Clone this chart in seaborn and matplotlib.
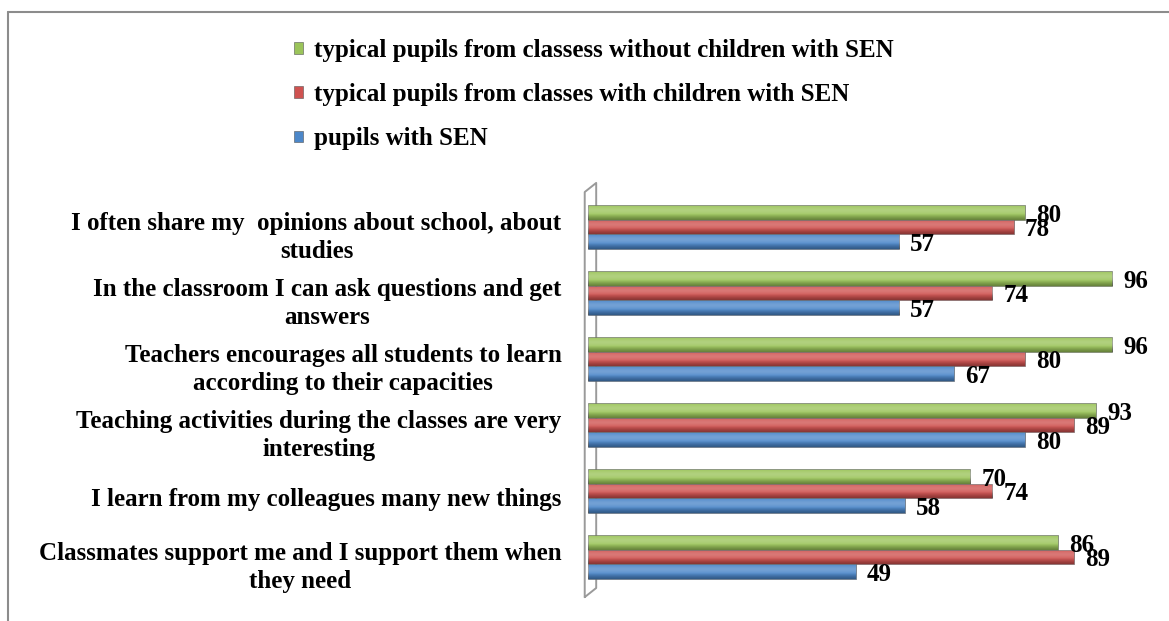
import matplotlib
matplotlib.use("Agg")
import matplotlib.pyplot as plt
import matplotlib.transforms as mtransforms
import numpy as np
import pandas as pd
import seaborn as sns
from matplotlib.lines import Line2D

# questionnaire items, top to bottom
CATEGORIES = [
    "I often share my  opinions about school, about\nstudies",
    "In the classroom I can ask questions and get\nanswers",
    "Teachers encourages all students to learn\naccording to their capacities",
    "Teaching activities during the classes are very\ninteresting",
    "I learn from my colleagues many new things",
    "Classmates support me and I support them when\nthey need",
]

SERIES = [
    "typical pupils from classess without children with SEN",
    "typical pupils from classes with children with SEN",
    "pupils with SEN",
]

WITHOUT_SEN = [80, 96, 96, 93, 70, 86]
WITH_SEN = [78, 74, 80, 89, 74, 89]
PUPILS_SEN = [57, 57, 67, 80, 58, 49]

COLORS = ["#9BC45A", "#CF5250", "#4C87C9"]

sns.set_theme(style="white")
plt.rcParams["font.family"] = ["Liberation Serif", "DejaVu Serif"]
plt.rcParams["font.weight"] = "bold"
plt.rcParams["text.color"] = "black"

df = pd.DataFrame({
    "item": CATEGORIES * 3,
    "group": [SERIES[0]] * 6 + [SERIES[1]] * 6 + [SERIES[2]] * 6,
    "value": WITHOUT_SEN + WITH_SEN + PUPILS_SEN,
})

fig = plt.figure(figsize=(11.69, 6.21), dpi=100)
ax = fig.add_axes([588 / 1169, 1 - 590 / 621, 546 / 1169, 396 / 621])

sns.barplot(
    data=df, x="value", y="item", hue="group",
    order=CATEGORIES, hue_order=SERIES, palette=COLORS,
    orient="h", width=0.66, saturation=1,
    edgecolor="#555555", linewidth=0.4, ax=ax,
)

# cylinder-ish shading on each bar
grad = np.linspace(0, 1, 64).reshape(-1, 1)
for patch in ax.patches:
    x0, y0 = patch.get_x(), patch.get_y()
    w, h = patch.get_width(), patch.get_height()
    if w <= 0:
        continue
    light = np.zeros((64, 1, 4))
    light[..., :3] = 1.0
    light[..., 3] = 0.22 * np.exp(-((grad - 0.35) ** 2) / 0.08)
    im = ax.imshow(light, extent=[x0, x0 + w, y0 + h, y0], aspect="auto",
                   zorder=patch.get_zorder() + 0.1, interpolation="bilinear")
    im.set_clip_path(patch)
    dark = np.zeros((64, 1, 4))
    dark[..., 3] = 0.35 * np.clip((grad - 0.6) / 0.4, 0, 1)
    im2 = ax.imshow(dark, extent=[x0, x0 + w, y0 + h, y0], aspect="auto",
                    zorder=patch.get_zorder() + 0.1, interpolation="bilinear")
    im2.set_clip_path(patch)

for container in ax.containers:
    texts = ax.bar_label(container, padding=8, fontsize=18, fontweight="bold",
                         color="black")
    for t in texts:
        t.xyann = (8, -2)

ax.set_xlim(0, 100)
ax.set_ylim(5.5, -0.5)
ax.set_xlabel("")
ax.set_ylabel("")
ax.set_xticks([])
for side in ["top", "right", "bottom", "left"]:
    ax.spines[side].set_visible(False)
ax.tick_params(axis="y", length=0, pad=19, labelcolor="black")
shift = mtransforms.ScaledTranslation(0, -4 / 72, fig.dpi_scale_trans)
for lab in ax.get_yticklabels():
    lab.set_fontsize(18)
    lab.set_fontweight("bold")
    lab.set_multialignment("center")
    lab.set_linespacing(1.3)
    lab.set_transform(lab.get_transform() + shift)

# 3d wall on the left of the bars
wall_x = [-0.006, -0.006, 0.015, 0.015, -0.006]
wall_y = [-0.018, 1.005, 1.028, 0.005, -0.018]
ax.plot(wall_x, wall_y, transform=ax.transAxes, color="#9a9a9a",
        linewidth=1.4, clip_on=False, zorder=0)

# outer frame of the chart area
fig.add_artist(Line2D([8 / 1169, 8 / 1169], [0, 1 - 12 / 621],
                      color="#8c8c8c", linewidth=1.5))
fig.add_artist(Line2D([8 / 1169, 1], [1 - 12 / 621, 1 - 12 / 621],
                      color="#8c8c8c", linewidth=1.5))

handles, labels = ax.get_legend_handles_labels()
ax.legend_.remove()
fig.legend(
    handles, labels, loc="upper left", bbox_to_anchor=(284 / 1169, 1 - 29 / 621),
    frameon=False, fontsize=18, handlelength=0.35, handleheight=0.35,
    handletextpad=0.45, labelspacing=0.85, borderaxespad=0,
)

fig.savefig("out.png", dpi=100)
